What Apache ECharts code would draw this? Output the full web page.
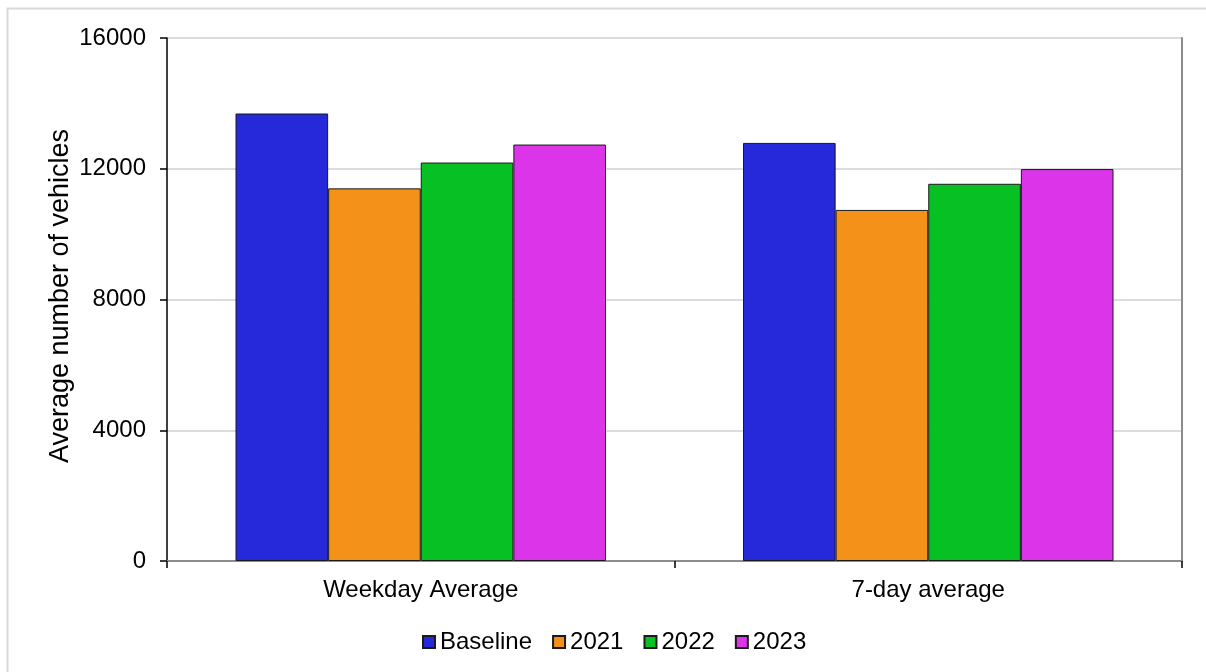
<!DOCTYPE html>
<html>
<head>
<meta charset="utf-8">
<script src="https://cdn.jsdelivr.net/npm/echarts@6/dist/echarts.min.js"></script>
<style>
  html, body { margin: 0; padding: 0; background: #fff; }
  #myBar { width: 1206px; height: 672px; }
</style>
</head>
<body>
<div id="myBar"></div>
<script>
  // data
  let categories = ['Weekday Average', '7-day average'];
  let seriesNames = ['Baseline', '2021', '2022', '2023'];
  let baseline = [13690, 12790];
  let y2021 = [11400, 10740];
  let y2022 = [12190, 11540];
  let y2023 = [12740, 11990];
  let yTicks = [0, 4000, 8000, 12000, 16000];

  let colors = ['#2529d9', '#f39118', '#07c023', '#dc34e8'];
  let values = [baseline, y2021, y2022, y2023];
  let font = 'Liberation Sans, Arial, sans-serif';

  let myBar = echarts.init(document.getElementById('myBar'));

  let option = {
    backgroundColor: '#fff',
    animation: false,
    textStyle: { fontFamily: font, color: '#000' },
    graphic: [{
      // faint outer frame of the original image (left and top edges visible)
      type: 'rect',
      shape: { x: 7.5, y: 8.5, width: 1400, height: 900 },
      style: { fill: 'none', stroke: '#d9d9d9', lineWidth: 2 },
      silent: true
    }],
    grid: {
      left: 167,
      right: 24,
      top: 38,
      bottom: 111
    },
    legend: {
      data: seriesNames,
      left: 422,
      top: 630,
      padding: 0,
      icon: 'rect',
      itemWidth: 12,
      itemHeight: 12,
      itemGap: 20,
      textStyle: { fontSize: 24, color: '#000', fontFamily: font }
    },
    xAxis: [{
      type: 'category',
      data: categories,
      axisLine: { lineStyle: { color: '#000', width: 1.5 } },
      axisTick: { show: true, length: 7, lineStyle: { color: '#000', width: 1.5 } },
      axisLabel: { fontSize: 24, color: '#000', margin: 17, fontFamily: font }
    }, {
      type: 'category',
      data: categories,
      position: 'top',
      axisLine: { lineStyle: { color: '#8c8c8c', width: 2 } },
      axisTick: { show: false },
      axisLabel: { show: false }
    }],
    yAxis: [{
      type: 'value',
      min: yTicks[0],
      max: yTicks[yTicks.length - 1],
      interval: 4000,
      name: 'Average number of vehicles',
      nameLocation: 'middle',
      nameGap: 93,
      nameMoveOverlap: false,
      nameTextStyle: { fontSize: 27, color: '#000', fontFamily: font, padding: [0, 0, 0, 7] },
      axisLine: { show: true, lineStyle: { color: '#000', width: 1.5 } },
      axisTick: { show: true, length: 7, lineStyle: { color: '#000', width: 1.5 } },
      axisLabel: {
        fontSize: 24, color: '#000', margin: 21, fontFamily: font,
        formatter: function (v) { return String(v); }
      },
      splitLine: { show: true, lineStyle: { color: '#dcdcdc', width: 2 } }
    }, {
      type: 'value',
      position: 'right',
      min: yTicks[0],
      max: yTicks[yTicks.length - 1],
      interval: 4000,
      axisLine: { show: true, lineStyle: { color: '#8c8c8c', width: 2 } },
      axisTick: { show: false },
      axisLabel: { show: false },
      splitLine: { show: false }
    }],
    series: seriesNames.map(function (name, i) {
      return {
        name: name,
        type: 'bar',
        barGap: 0,
        barCategoryGap: '27%',
        itemStyle: {
          color: colors[i],
          borderColor: '#1a1a1a',
          borderWidth: 1
        },
        data: values[i]
      };
    })
  };

  myBar.setOption(option);
</script>
</body>
</html>
